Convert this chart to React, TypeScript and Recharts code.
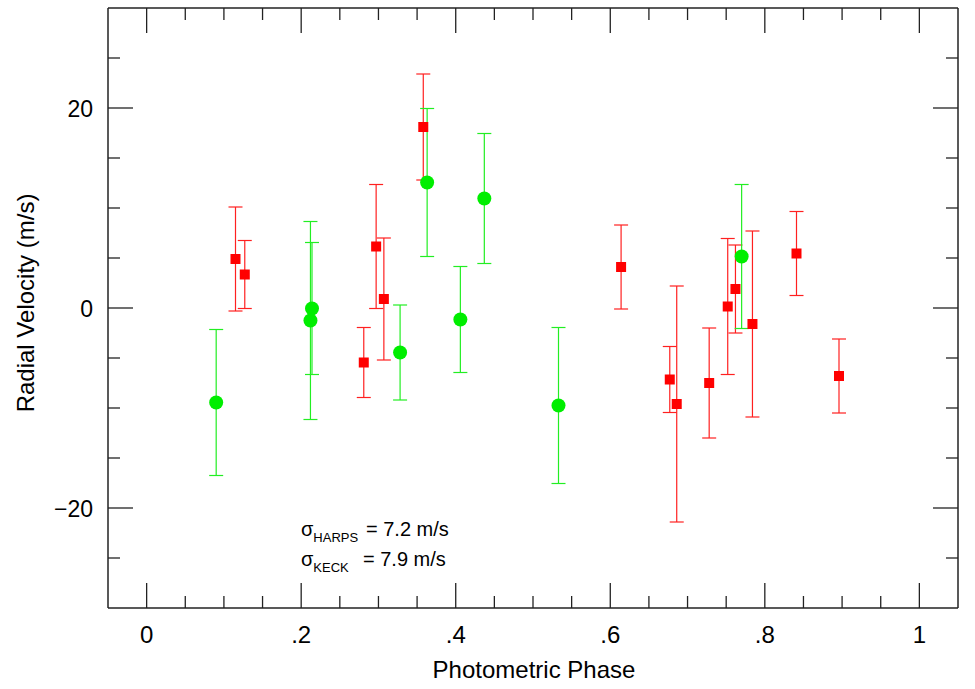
import { ScatterChart, Scatter, XAxis, YAxis, ErrorBar } from 'recharts'

// HARPS (red squares)
const harpsPhase = [0.115, 0.127, 0.281, 0.297, 0.307, 0.358, 0.614, 0.677, 0.686, 0.728, 0.752, 0.762, 0.784, 0.841, 0.896]
const harpsRv = [4.9, 3.35, -5.45, 6.15, 0.9, 18.1, 4.1, -7.15, -9.6, -7.5, 0.15, 1.9, -1.6, 5.45, -6.8]
const harpsErr = [5.2, 3.4, 3.5, 6.2, 6.1, 5.3, 4.2, 3.3, 11.8, 5.5, 6.8, 4.4, 9.3, 4.2, 3.7]

// KECK (green circles)
const keckPhase = [0.09, 0.212, 0.214, 0.328, 0.363, 0.406, 0.437, 0.533, 0.77]
const keckRv = [-9.45, -1.25, -0.05, -4.45, 12.55, -1.15, 10.95, -9.75, 5.15]
const keckErr = [7.3, 9.9, 6.6, 4.75, 7.4, 5.3, 6.5, 7.8, 7.2]

const xTicks = [0, 0.05, 0.1, 0.15, 0.2, 0.25, 0.3, 0.35, 0.4, 0.45, 0.5, 0.55, 0.6, 0.65, 0.7, 0.75, 0.8, 0.85, 0.9, 0.95, 1]
const xMajor = [0, 0.2, 0.4, 0.6, 0.8, 1]
const xLabels = ['0', '.2', '.4', '.6', '.8', '1']
const yTicks = [-25, -20, -15, -10, -5, 0, 5, 10, 15, 20, 25]
const yMajor = [-20, 0, 20]
const yLabels = ['\u221220', '0', '20']

const harps = harpsPhase.map((p, i) => ({ phase: p, rv: harpsRv[i], err: harpsErr[i] }))
const keck = keckPhase.map((p, i) => ({ phase: p, rv: keckRv[i], err: keckErr[i] }))

const INK = '#222'
const FONT = '"Liberation Sans", Arial, Helvetica, sans-serif'

function XTick({ x, y, payload, top }: any) {
  const i = xMajor.indexOf(payload.value)
  const len = i >= 0 ? 25 : 12
  return (
    <g>
      <line x1={x} x2={x} y1={y} y2={top ? y + len : y - len} stroke={INK} strokeWidth={1.3} />
      {!top && i >= 0 && (
        <text x={x} y={y + 35} textAnchor="middle" fontSize={24} fill="#000" fontFamily={FONT}>
          {xLabels[i]}
        </text>
      )}
    </g>
  )
}

function YTick({ x, y, payload, right }: any) {
  const i = yMajor.indexOf(payload.value)
  const len = i >= 0 ? 25 : 12
  return (
    <g>
      <line x1={x} x2={right ? x - len : x + len} y1={y} y2={y} stroke={INK} strokeWidth={1.3} />
      {!right && i >= 0 && (
        <text x={x - 15} y={y + 8.5} textAnchor="end" fontSize={23} fill="#000" fontFamily={FONT}>
          {yLabels[i]}
        </text>
      )}
    </g>
  )
}

function Square({ cx, cy }: any) {
  return <rect x={cx - 5} y={cy - 5} width={10} height={10} fill="#ff0000" />
}

function Dot({ cx, cy }: any) {
  return <circle cx={cx} cy={cy} r={7} fill="#00ee00" />
}

export default function App() {
  return (
    <div style={{ position: 'absolute', left: 0, top: 0, background: '#fff' }}>
      <ScatterChart width={975} height={689} margin={{ top: 0, right: 0, bottom: 0, left: 0 }}>
        <XAxis
          xAxisId="b"
          type="number"
          dataKey="phase"
          domain={[-0.05, 1.05]}
          ticks={xTicks}
          interval={0}
          height={81}
          tickSize={0}
          tickMargin={0}
          tickLine={false}
          axisLine={{ stroke: INK, strokeWidth: 1.5 }}
          tick={<XTick />}
          allowDataOverflow
        />
        <XAxis
          xAxisId="t"
          orientation="top"
          type="number"
          dataKey="phase"
          domain={[-0.05, 1.05]}
          ticks={xTicks}
          interval={0}
          height={8}
          tickSize={0}
          tickMargin={0}
          tickLine={false}
          axisLine={{ stroke: INK, strokeWidth: 1.5 }}
          tick={<XTick top />}
          allowDataOverflow
        />
        <YAxis
          yAxisId="l"
          type="number"
          dataKey="rv"
          domain={[-30, 30]}
          ticks={yTicks}
          interval={0}
          width={108}
          tickSize={0}
          tickMargin={0}
          tickLine={false}
          axisLine={{ stroke: INK, strokeWidth: 1.5 }}
          tick={<YTick />}
          allowDataOverflow
        />
        <YAxis
          yAxisId="r"
          orientation="right"
          type="number"
          dataKey="rv"
          domain={[-30, 30]}
          ticks={yTicks}
          interval={0}
          width={17}
          tickSize={0}
          tickMargin={0}
          tickLine={false}
          axisLine={{ stroke: INK, strokeWidth: 1.5 }}
          tick={<YTick right />}
          allowDataOverflow
        />
        <Scatter data={harps} xAxisId="b" yAxisId="l" shape={<Square />} isAnimationActive={false}>
          <ErrorBar dataKey="err" direction="y" width={7} stroke="#ff2020" strokeWidth={1.2} />
        </Scatter>
        <Scatter data={keck} xAxisId="b" yAxisId="l" shape={<Dot />} isAnimationActive={false}>
          <ErrorBar dataKey="err" direction="y" width={7} stroke="#22ee22" strokeWidth={1.2} />
        </Scatter>
        <text x={34} y={303} transform="rotate(-90 34 303)" textAnchor="middle" fontSize={24} fontFamily={FONT} fill="#000">
          Radial Velocity (m/s)
        </text>
        <text x={534} y={678} textAnchor="middle" fontSize={24} fontFamily={FONT} fill="#000">
          Photometric Phase
        </text>
        <text x={301} y={536} fontSize={20} fontFamily={FONT} fill="#000">
          σ<tspan fontSize={13} dy={6}>HARPS</tspan>
          <tspan x={366} dy={-6}>= 7.2 m/s</tspan>
        </text>
        <text x={301} y={566} fontSize={20} fontFamily={FONT} fill="#000">
          σ<tspan fontSize={13} dy={6}>KECK</tspan>
          <tspan x={363} dy={-6}>= 7.9 m/s</tspan>
        </text>
      </ScatterChart>
    </div>
  )
}
